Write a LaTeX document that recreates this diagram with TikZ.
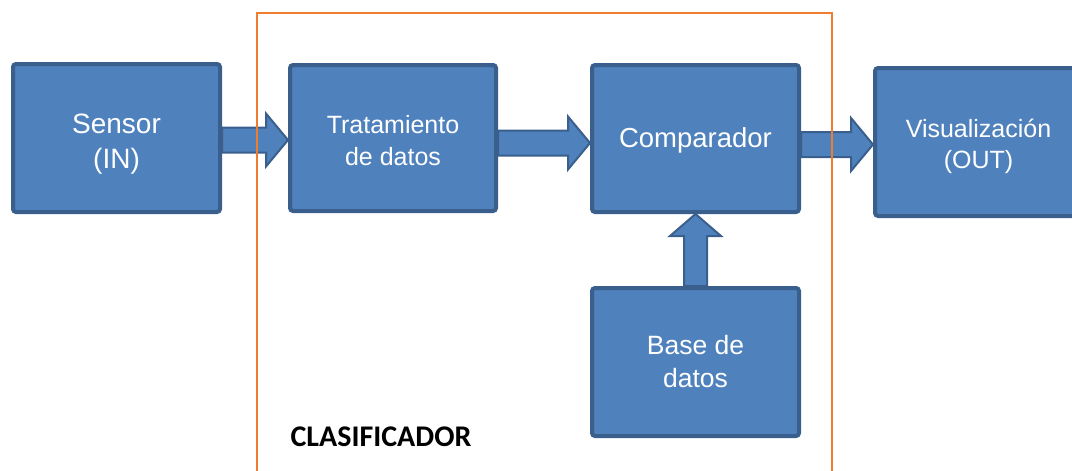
\documentclass[tikz,border=0pt]{standalone}
\usepackage{fontspec}
\setmainfont{Liberation Sans}
\newfontfamily\carlito{Carlito}
\usetikzlibrary{calc,backgrounds}
\definecolor{boxblue}{HTML}{4F81BD}
\definecolor{boxedge}{HTML}{3A5F8C}
\definecolor{frameorange}{HTML}{F07D2E}
\tikzset{
  blockbox/.style={draw=boxedge, fill=boxblue, line width=4pt, rounded corners=3pt,
    minimum width=207pt, minimum height=148pt, inner sep=0pt},
  boxtext/.style={text=white, align=center, inner sep=0pt},
  fatarrow/.style={draw=boxedge, fill=boxblue, line width=2pt, line join=miter},
}
\newcommand\harrow[3]{\path[fatarrow] let \p1=(#1.east), \p2=(#2.west), \p3=(0,#3) in
  (\x1,\y3+12.5pt) -- (\x2-22pt,\y3+12.5pt) -- (\x2-22pt,\y3+26.5pt) -- (\x2,\y3)
  -- (\x2-22pt,\y3-26.5pt) -- (\x2-22pt,\y3-12.5pt) -- (\x1,\y3-12.5pt) -- cycle;}
\newcommand\varrow[2]{\path[fatarrow] let \p1=(#1.north), \p2=(#2.south) in
  (\x1-11.5pt,\y1) -- (\x1-11.5pt,\y2-22pt) -- (\x1-25.5pt,\y2-22pt) -- (\x1,\y2)
  -- (\x1+25.5pt,\y2-22pt) -- (\x1+11.5pt,\y2-22pt) -- (\x1+11.5pt,\y1) -- cycle;}
\begin{document}
\begin{tikzpicture}[x=1pt,y=-1pt]
\useasboundingbox (0,0) rectangle (1072,471);
\node[blockbox, label={[boxtext, yshift=-6pt, font=\fontsize{28}{35}\selectfont]center:{Sensor\\(IN)}}] (sensor) at (116.5,138) {};
\node[blockbox, minimum width=206pt, minimum height=146pt, label={[boxtext, yshift=-3pt, font=\fontsize{25}{32}\selectfont]center:{Tratamiento\\de datos}}] (trat) at (393,138) {};
\node[blockbox, minimum height=147pt, label={[boxtext, yshift=-2pt, font=\fontsize{27.5}{33}\selectfont]center:{Comparador}}] (comp) at (695.5,138.5) {};
\node[blockbox, label={[boxtext, font=\fontsize{26.5}{33}\selectfont]center:{Base de\\datos}}] (base) at (695.5,362) {};
\node[blockbox, label={[boxtext, yshift=-4pt, font=\fontsize{25}{31}\selectfont]center:{Visualización\\(OUT)}}] (vis) at (978.5,142) {};
\begin{scope}[on background layer]
  \harrow{sensor}{trat}{140}
  \harrow{trat}{comp}{143}
  \harrow{comp}{vis}{144.5}
  \varrow{base}{comp}
\end{scope}
\draw[frameorange, line width=1.5pt] (257,480) -- (257,13) -- (832,13) -- (832,480);
\node[font=\carlito\bfseries\fontsize{30}{36}\selectfont, text=black] (clasif) at (381,437) {CLASIFICADOR};
\end{tikzpicture}
\end{document}
